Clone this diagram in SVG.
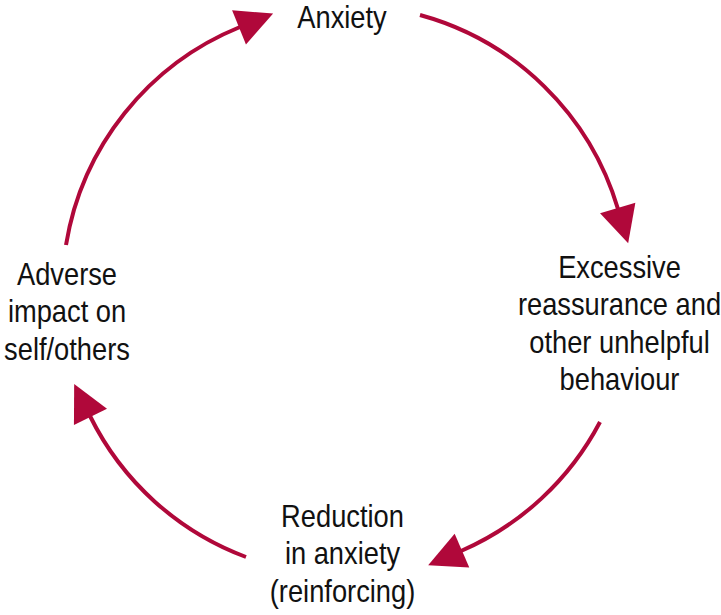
<svg xmlns="http://www.w3.org/2000/svg" width="721" height="615" viewBox="0 0 721 615">
<style>
  .lbl { font-family: "Liberation Sans", Arial, sans-serif; font-size: 31px; fill: #111; text-anchor: middle; }
  .arc { fill: none; stroke: #B0083A; stroke-width: 4; }
</style>
<defs>
  <marker id="ah" markerUnits="userSpaceOnUse" markerWidth="40" markerHeight="40" viewBox="-2 -18 38 36" refX="1" refY="0" orient="auto">
    <path d="M0,-17.5 L35,0 L0,17.5 Z" fill="#B0083A"/>
  </marker>
</defs>
<rect width="721" height="615" fill="#fff"/>
<g id="connectors">
  <path class="arc" d="M420,15 A285,285 0 0,1 618,209" marker-end="url(#ah)"/>
  <path class="arc" d="M600,422 A285,285 0 0,1 461,551" marker-end="url(#ah)"/>
  <path class="arc" d="M246,557 A285,285 0 0,1 90,416" marker-end="url(#ah)"/>
  <path class="arc" d="M66,245 A285,285 0 0,1 240,27" marker-end="url(#ah)"/>
</g>
<g id="anxiety" transform="translate(342,0) scale(0.88,1)">
  <text class="lbl" x="0" y="28">Anxiety</text>
</g>
<g id="excessive" transform="translate(619.5,0) scale(0.88,1)">
  <text class="lbl" x="0" y="278">Excessive</text>
  <text class="lbl" x="0" y="315.5">reassurance and</text>
  <text class="lbl" x="0" y="353">other unhelpful</text>
  <text class="lbl" x="0" y="390.5">behaviour</text>
</g>
<g id="reduction" transform="translate(342.5,0) scale(0.88,1)">
  <text class="lbl" x="0" y="527">Reduction</text>
  <text class="lbl" x="0" y="564.5">in anxiety</text>
  <text class="lbl" x="0" y="602">(reinforcing)</text>
</g>
<g id="adverse" transform="translate(67,0) scale(0.88,1)">
  <text class="lbl" x="0" y="285">Adverse</text>
  <text class="lbl" x="0" y="322.5">impact on</text>
  <text class="lbl" x="0" y="360">self/others</text>
</g>
</svg>
